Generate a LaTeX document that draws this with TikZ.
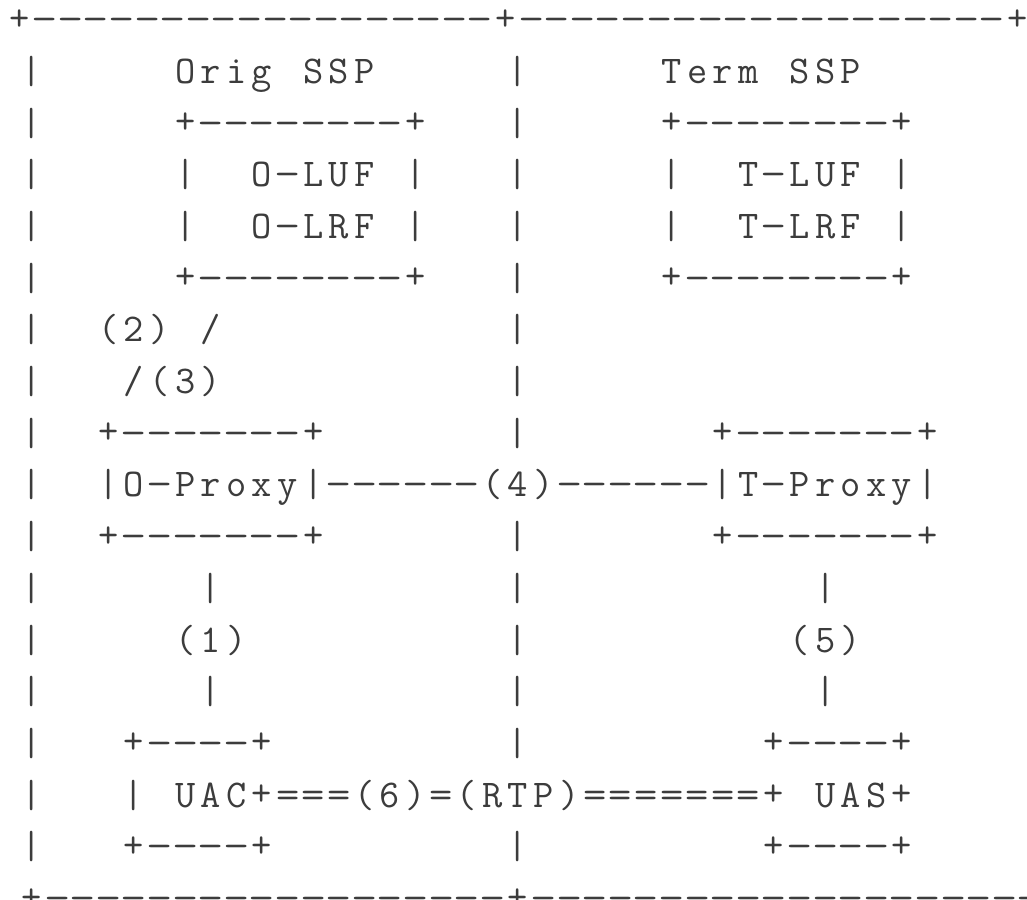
\documentclass[tikz,border=0pt]{standalone}
\usepackage{graphicx}
\usetikzlibrary{positioning}
\definecolor{inkgray}{HTML}{3C3C3C}
\newlength\cw
\setlength\cw{25.6pt}
\def\glStop{glStop}
\def\glDash{\scalebox{1.3}[1]{-}}
\def\glEq{\scalebox{1.15}[1]{=}}
\def\glPlus{\raisebox{1.5pt}{+}}
\def\glChar#1{\hbox to\cw{\hss\ifx#1_\else\ifx#1-\glDash\else\ifx#1=\glEq\else\ifx#1+\glPlus\else#1\fi\fi\fi\fi\hss}}
\def\glA#1{\ifx#1\glStop\else\glChar{#1}\expandafter\glA\fi}
\def\gl#1{\glA#1\glStop}
\tikzset{
  asciiline/.style={anchor=base west, inner sep=0pt, outer sep=0pt, text=inkgray,
    font=\fontsize{39.3}{47}\selectfont\ttfamily}
}
\begin{document}
\begin{tikzpicture}[x=1pt,y=-1pt]
\useasboundingbox (0,0) rectangle (1027,899);
\def\lx{18.9}
\node[asciiline] (l01) at (6.5,31.6) {\gl{+------------------+-------------------+}};
\node[asciiline] (l02) at (\lx,83.3) {\gl{|_____Orig_SSP_____|_____Term_SSP}};
\node[asciiline] (l03) at (\lx,135.0) {\gl{|_____+--------+___|_____+--------+}};
\node[asciiline] (l04) at (\lx,186.7) {\gl{|_____|__O-LUF_|___|_____|__T-LUF_|}};
\node[asciiline] (l05) at (\lx,238.4) {\gl{|_____|__O-LRF_|___|_____|__T-LRF_|}};
\node[asciiline] (l06) at (\lx,290.1) {\gl{|_____+--------+___|_____+--------+}};
\node[asciiline] (l07) at (\lx,341.8) {\gl{|__(2)_/___________|}};
\node[asciiline] (l08) at (\lx,393.5) {\gl{|___/(3)___________|}};
\node[asciiline] (l09) at (\lx,445.2) {\gl{|__+-------+_______|_______+-------+}};
\node[asciiline] (l10) at (\lx,496.9) {\gl{|__|O-Proxy|------(4)------|T-Proxy|}};
\node[asciiline] (l11) at (\lx,548.6) {\gl{|__+-------+_______|_______+-------+}};
\node[asciiline] (l12) at (\lx,600.3) {\gl{|______|___________|___________|}};
\node[asciiline] (l13) at (\lx,652.0) {\gl{|_____(1)__________|__________(5)}};
\node[asciiline] (l14) at (\lx,703.7) {\gl{|______|___________|___________|}};
\node[asciiline] (l15) at (\lx,755.4) {\gl{|___+----+_________|_________+----+}};
\node[asciiline] (l16) at (\lx,807.1) {\gl{|___|_UAC+===(6)=(RTP)=======+_UAS+}};
\node[asciiline] (l17) at (\lx,858.8) {\gl{|___+----+_________|_________+----+}};
\node[asciiline] (l18) at (\lx,910.5) {\gl{+------------------+--------------------+}};
\end{tikzpicture}
\end{document}
